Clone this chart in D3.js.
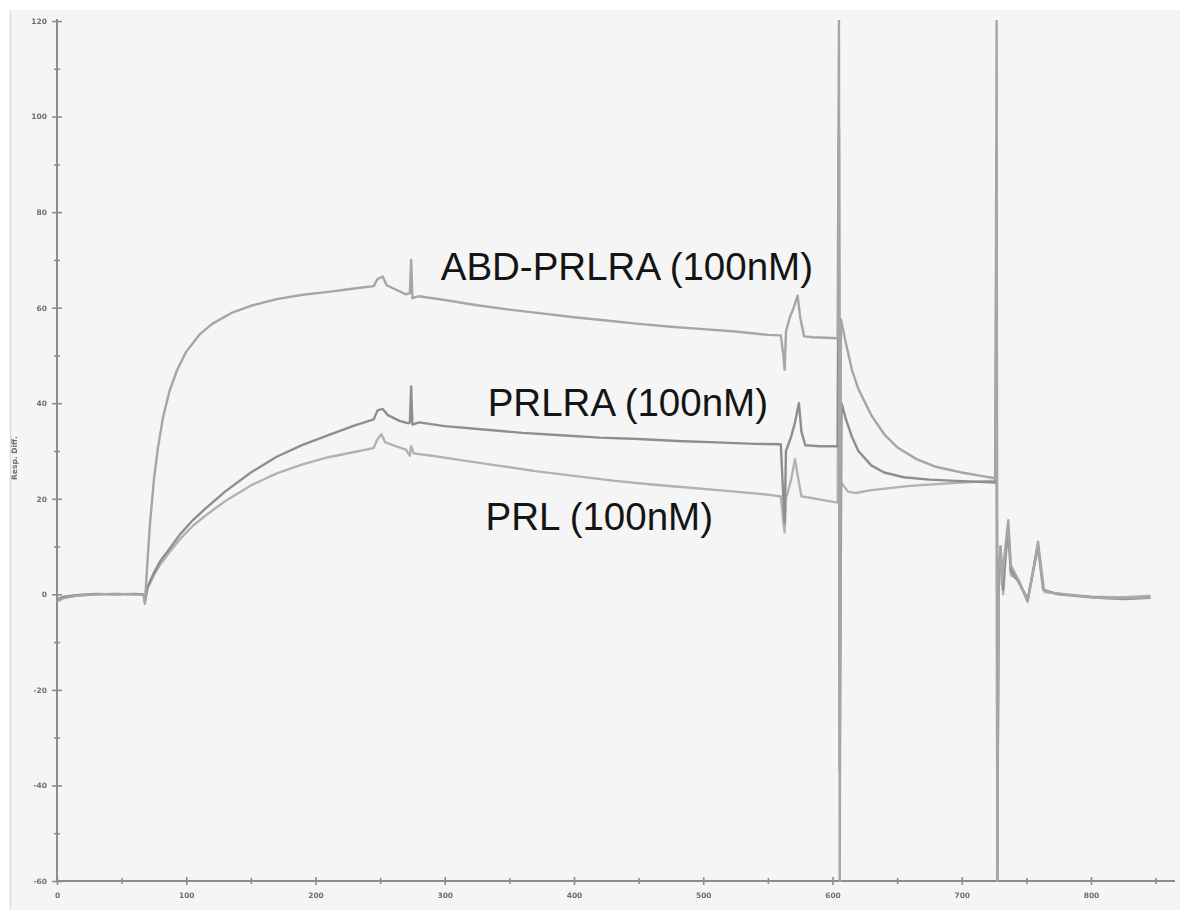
<!DOCTYPE html>
<html>
<head>
<meta charset="utf-8">
<script src="https://cdn.jsdelivr.net/npm/d3@7"></script>
<style>
    body { margin: 0; background: #ffffff; }
    svg { display: block; }
</style>
</head>
<body>
<div id="chart"></div>
<script>
// sensorgram traces, [time (s), response]
var abdPrlra = [[0,-1.5],[5,-0.8],[15,-0.3],[30,0],[45,0.1],[60,0],[67,0],[68,-2],[70,7],[72,15],[75,24],[78,30.5],[82,37],[87,42.5],[93,47],[100,50.8],[110,54.3],[120,56.6],[135,58.9],[150,60.4],[170,61.8],[190,62.7],[210,63.3],[230,64],[245,64.5],[248,66],[252,66.5],[255,64.7],[262,63.8],[270,62.8],[273,63],[274,70],[275,62],[280,62.4],[300,61.6],[325,60.5],[350,59.6],[375,58.8],[400,58],[425,57.3],[450,56.6],[475,56],[500,55.5],[525,55],[550,54.3],[560,54.2],[562,50],[563,47],[564,55],[567,58],[570,60],[573,62.5],[575,58],[578,54],[585,53.8],[595,53.7],[604,53.6],[605,120],[605.6,-60],[606.5,57.6],[610,53],[615,47],[620,43],[630,37.5],[640,33.5],[650,30.8],[665,28.3],[680,26.7],[700,25.5],[715,24.8],[726,24.3],[727,120],[727.5,-60],[728.5,5],[730,10],[731,2],[733,8],[736,15.5],[738,6],[742,4],[751,-1.5],[759,11],[763,1],[770,0.3],[790,-0.3],[810,-0.8],[830,-0.8],[846,-0.6]];

var prlra = [[0,-1.2],[5,-0.6],[15,-0.2],[30,0.1],[45,0],[60,0.1],[67,0],[68,-1.5],[70,1.5],[75,4.5],[80,7],[87,9.5],[95,12.5],[105,15.5],[115,18],[130,21.5],[150,25.5],[170,28.8],[190,31.3],[210,33.3],[230,35.3],[245,36.6],[248,38.5],[252,38.8],[256,37.5],[265,36.3],[272,35.8],[273,36],[274,43.5],[275,35.5],[280,36],[300,35.2],[330,34.5],[360,33.8],[390,33.3],[420,32.8],[450,32.5],[480,32.1],[510,31.8],[540,31.5],[560,31.4],[562,20],[563,15],[564,30],[568,33],[571,36],[574,40],[576,34],[579,31.2],[590,31],[604,31],[605,98],[605.6,-37],[607,40],[610,37],[615,33],[620,30],[630,27],[640,25.5],[655,24.5],[675,24],[700,23.7],[726,23.4],[727,92],[727.5,-60],[728.5,4],[730,10],[732,1],[734,9],[736,14],[738,5],[743,3],[751,-1],[759,10],[763,1],[775,0],[800,-0.6],[825,-1],[846,-0.7]];

var prl = [[0,-1],[5,-0.5],[15,-0.2],[30,0],[45,0.1],[60,0],[67,0],[68,-1.5],[70,1.2],[75,4],[80,6.3],[87,8.8],[95,11.5],[105,14.3],[115,16.5],[130,19.5],[150,22.8],[170,25.3],[190,27.2],[210,28.7],[230,29.8],[245,30.6],[248,32.5],[251,33.5],[254,31.8],[262,31],[270,30.3],[273,29],[274,31],[276,29.5],[290,29],[310,28.2],[340,27],[370,25.8],[400,24.8],[430,23.8],[460,23],[490,22.3],[520,21.6],[545,21],[560,20.5],[562,15],[563,13],[564,20],[568,24],[571,28.3],[573,25],[576,20.5],[585,20.1],[595,19.6],[604,19.2],[605,96],[605.6,-20],[606.5,23.5],[612,21.5],[618,21.2],[630,21.8],[660,22.7],[700,23.4],[726,23.8],[727,63],[727.5,-60],[728.5,3],[730,9],[732,0],[734,8],[736,13],[738,4],[744,3],[751,-1.5],[759,10.5],[764,0.5],[780,0],[800,-0.5],[825,-0.6],[846,-0.3]];

var seriesNames = ["PRL", "PRLRA", "ABD-PRLRA"];
var seriesData = [prl, prlra, abdPrlra];
var seriesColors = ["#b2b2b2", "#8e8e8e", "#a6a6a6"];

var labelTexts = ["ABD-PRLRA (100nM)", "PRLRA (100nM)", "PRL (100nM)"];
var xTicks = [0, 100, 200, 300, 400, 500, 600, 700, 800];
var yTicks = [-60, -40, -20, 0, 20, 40, 60, 80, 100, 120];
var yTitle = "Resp. Diff.";

var width = 1180, height = 910;

var svg = d3.select("#chart")
    .append("svg")
    .attr("width", width)
    .attr("height", height);

var defs = svg.append("defs");
defs.append("filter")
    .attr("id", "soft")
    .append("feGaussianBlur")
    .attr("stdDeviation", 0.6);
defs.append("clipPath")
    .attr("id", "plotclip")
    .append("rect")
    .attr("x", 57)
    .attr("y", 20)
    .attr("width", 1120)
    .attr("height", 862);

// scanned page look: grey panel with a white margin top/left
svg.append("rect")
    .attr("x", 10)
    .attr("y", 10)
    .attr("width", width - 10)
    .attr("height", height - 10)
    .attr("fill", "#f5f5f5");
svg.append("line")
    .attr("x1", 10.5).attr("x2", 10.5)
    .attr("y1", 10).attr("y2", height)
    .attr("stroke", "#dcdcdc")
    .attr("stroke-width", 1.5);

var x = d3.scaleLinear().domain([0, 865]).range([57, 1175]);
var y = d3.scaleLinear().domain([-60, 120]).range([881, 21]);

// axes: major ticks labelled, minor ticks in between
var xAxis = d3.axisBottom(x)
    .tickValues(d3.range(0, 851, 50))
    .tickSize(5)
    .tickFormat(function(d) { return xTicks.indexOf(d) >= 0 ? d : ""; });
var yAxis = d3.axisLeft(y)
    .tickValues(d3.range(-60, 121, 10))
    .tickSize(5)
    .tickFormat(function(d) { return yTicks.indexOf(d) >= 0 ? d : ""; });

var gx = svg.append("g")
    .attr("transform", "translate(0," + y(-60) + ")")
    .call(xAxis);
var gy = svg.append("g")
    .attr("transform", "translate(" + x(0) + ",0)")
    .call(yAxis);

[gx, gy].forEach(function(g) {
    g.select(".domain")
	.attr("stroke", "#8c8c8c")
	.attr("stroke-width", 2);
    g.selectAll(".tick line")
	.attr("stroke", "#8c8c8c")
	.attr("stroke-width", 1.6);
    g.selectAll(".tick text")
	.attr("fill", "#6e6e6e")
	.attr("font-family", "DejaVu Sans")
	.attr("font-weight", "bold")
	.attr("font-size", "7.5px")
	.attr("filter", "url(#soft)");
});
// ticks cross the axis line
gx.selectAll(".tick line").attr("y1", -4).attr("y2", 4);
gx.selectAll(".tick text").attr("y", 12);
gy.selectAll(".tick line").attr("x1", -5).attr("x2", 5);
gy.selectAll(".tick text").attr("x", -10);
gx.selectAll(".tick").filter(function(d) { return d % 100 !== 0; })
    .select("line").attr("y1", -3).attr("y2", 3);
gy.selectAll(".tick").filter(function(d) { return d % 20 !== 0; })
    .select("line").attr("x1", -3).attr("x2", 3);
// axis line runs past the last tick
gx.select(".domain").attr("d", "M" + x(0) + ",0H" + 1175);
gy.select(".domain").attr("d", "M0," + y(-60) + "V" + 19);

svg.append("text")
    .attr("transform", "translate(17,458) rotate(-90)")
    .attr("text-anchor", "middle")
    .attr("font-family", "DejaVu Sans")
    .attr("font-weight", "bold")
    .attr("font-size", "7.5px")
    .attr("fill", "#6e6e6e")
    .attr("filter", "url(#soft)")
    .text(yTitle);

// curves
var line = d3.line()
    .x(function(d) { return x(d[0]); })
    .y(function(d) { return y(d[1]); });

svg.append("g")
    .attr("clip-path", "url(#plotclip)")
    .selectAll("path")
    .data(seriesData)
    .enter()
    .append("path")
    .attr("d", line)
    .attr("fill", "none")
    .attr("stroke", function(d, i) { return seriesColors[i]; })
    .attr("stroke-width", 2.4)
    .attr("stroke-linejoin", "round");

// curve labels
var labelPos = [[813, 280], [768, 416], [713, 530]];
svg.selectAll(".lbl")
    .data(labelTexts)
    .enter()
    .append("text")
    .attr("class", "lbl")
    .attr("x", function(d, i) { return labelPos[i][0]; })
    .attr("y", function(d, i) { return labelPos[i][1]; })
    .attr("text-anchor", "end")
    .attr("font-family", "Liberation Sans")
    .attr("font-size", "38.5px")
    .attr("fill", "#141414")
    .text(function(d) { return d; });
</script>
</body>
</html>
